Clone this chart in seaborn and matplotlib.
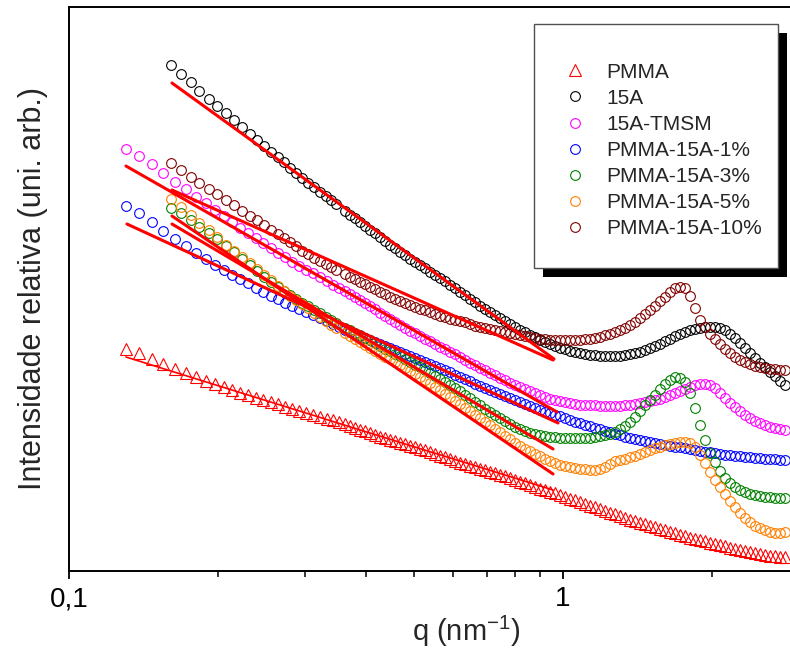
import numpy as np
import pandas as pd
import matplotlib
matplotlib.use("Agg")
import matplotlib.pyplot as plt
from matplotlib.lines import Line2D
from matplotlib.patches import Rectangle
from matplotlib.ticker import LogLocator, FuncFormatter, NullFormatter
import seaborn as sns

# ---------------- data ----------------
# q grids (nm^-1)
q_lo_a = [0.1304, 0.1386, 0.1472, 0.1550, 0.1639, 0.1725, 0.1807, 0.1893, 0.1974,
          0.2059, 0.2138, 0.2219, 0.2303, 0.2391, 0.2470, 0.2563, 0.2648, 0.2737,
          0.2827, 0.2921, 0.3018, 0.3118, 0.3222, 0.3329, 0.3423, 0.3520]
q_lo_b = [0.1609, 0.1685, 0.1766, 0.1833, 0.1920, 0.1993, 0.2078, 0.2158, 0.2240,
          0.2325, 0.2402, 0.2481, 0.2563, 0.2648, 0.2724, 0.2801, 0.2881, 0.2963,
          0.3047, 0.3133, 0.3222, 0.3313, 0.3391, 0.3471]
q_hi = [0.3620, 0.3705, 0.3792, 0.3882, 0.3973, 0.4067, 0.4163, 0.4262, 0.4361, 0.4465,
        0.4570, 0.4677, 0.4788, 0.4901, 0.5017, 0.5135, 0.5256, 0.5380, 0.5507, 0.5636,
        0.5770, 0.5906, 0.6045, 0.6187, 0.6333, 0.6482, 0.6636, 0.6792, 0.6952, 0.7115,
        0.7284, 0.7456, 0.7632, 0.7810, 0.7996, 0.8184, 0.8377, 0.8574, 0.8777, 0.8983,
        0.9196, 0.9412, 0.9634, 0.9861, 1.0093, 1.0332, 1.0576, 1.0824, 1.1078, 1.1342,
        1.1609, 1.1882, 1.2162, 1.2448, 1.2742, 1.3043, 1.3350, 1.3665, 1.3986, 1.4319,
        1.4655, 1.5000, 1.5354, 1.5717, 1.6087, 1.6466, 1.6855, 1.7250, 1.7660, 1.8076,
        1.8501, 1.8937, 1.9383, 1.9843, 2.0312, 2.0787, 2.1281, 2.1781, 2.2298, 2.2819,
        2.3358, 2.3906, 2.4477, 2.5050, 2.5644, 2.6244, 2.6863, 2.7497, 2.8145]

# relative intensity (arbitrary units, log-like scale)
I_pmma = [222, 218, 212, 207, 202, 198, 194, 190, 187, 184, 181, 178, 176, 173, 171,
          169, 167, 164, 162, 160, 158, 156, 154, 152, 151, 149,
          147, 145, 143, 141, 140, 138, 136, 134, 133, 131,
          130, 128, 127, 125, 124, 122, 121, 119, 117, 115,
          114, 112, 110, 108, 107, 105, 104, 102, 101, 99,
          98, 96, 95, 93, 91, 89, 88, 86, 84, 82,
          81, 79, 78, 76, 74, 72, 71, 69, 67, 65,
          64, 62, 60, 58, 57, 55, 53, 51, 50, 48,
          47, 45, 44, 42, 41, 39, 38, 36, 35, 33,
          32, 31, 30, 28, 27, 26, 25, 23, 22, 21,
          20, 19, 18, 17, 16, 15, 15, 14, 14]
I_15a = [506, 497, 489, 480, 472, 465, 458, 451, 444, 437, 431, 425, 419, 414, 409,
         403, 398, 393, 388, 384, 379, 375, 371, 367,
         360, 356, 353, 349, 345, 341, 338, 334, 330, 326,
         323, 319, 316, 312, 309, 306, 303, 299, 296, 293,
         290, 286, 283, 279, 276, 272, 269, 265, 262, 259,
         256, 253, 250, 247, 244, 241, 239, 236, 234, 231,
         229, 227, 225, 223, 222, 220, 219, 218, 217, 216,
         216, 215, 215, 215, 215, 215, 216, 217, 218, 219,
         221, 223, 225, 227, 230, 232, 235, 237, 239, 241,
         242, 243, 244, 244, 244, 243, 241, 237, 233, 228,
         223, 218, 213, 208, 204, 199, 195, 190, 186]
I_tmsm = [422, 415, 407, 398, 389, 382, 374, 368, 361, 355, 349, 343, 338, 333, 328,
          323, 318, 314, 309, 305, 301, 298, 294, 290, 286, 283,
          280, 277, 274, 271, 268, 265, 262, 258, 255, 252,
          249, 246, 243, 240, 238, 235, 232, 230, 227, 224,
          222, 219, 217, 214, 211, 208, 206, 203, 201, 198,
          196, 193, 191, 188, 186, 184, 182, 180, 178, 176,
          174, 172, 171, 170, 169, 168, 167, 166, 166, 166,
          166, 165, 165, 165, 165, 165, 166, 166, 167, 168,
          169, 170, 171, 172, 174, 176, 178, 180, 182, 184,
          186, 187, 187, 186, 183, 178, 173, 168, 164, 160,
          156, 153, 150, 148, 146, 144, 143, 142, 141]
I_1 = [365, 358, 349, 340, 332, 325, 318, 312, 306, 301, 296, 292, 288, 283, 279,
       275, 272, 268, 265, 262, 259, 256, 253, 250, 247, 244,
       241, 239, 237, 235, 233, 231, 229, 227, 225, 223,
       221, 219, 217, 215, 213, 211, 209, 207, 205, 203,
       201, 199, 196, 194, 192, 190, 187, 185, 183, 181,
       179, 177, 175, 173, 171, 169, 167, 165, 163, 161,
       159, 158, 156, 155, 153, 151, 149, 148, 146, 145,
       143, 142, 140, 139, 137, 136, 134, 133, 132, 131,
       130, 129, 128, 127, 126, 125, 124, 124, 123, 122,
       121, 120, 119, 119, 118, 117, 116, 116, 115, 115,
       114, 114, 113, 113, 112, 112, 112, 111, 111]
I_3 = [363, 358, 351, 344, 338, 332, 325, 319, 312, 306, 300, 294, 289, 284, 280,
       276, 272, 268, 265, 261, 258, 254, 251, 248,
       243, 241, 238, 236, 233, 231, 228, 225, 222, 220,
       217, 215, 212, 209, 206, 204, 201, 198, 195, 192,
       189, 186, 183, 180, 176, 173, 169, 166, 162, 159,
       156, 153, 150, 147, 144, 142, 140, 138, 137, 136,
       135, 134, 134, 133, 133, 133, 133, 133, 133, 133,
       134, 135, 136, 137, 139, 142, 145, 149, 154, 160,
       166, 171, 176, 182, 187, 191, 194, 193, 189, 178,
       163, 146, 131, 118, 109, 100, 93, 88, 84, 81,
       79, 77, 76, 75, 74, 74, 73, 73, 73]
I_5 = [372, 364, 356, 348, 341, 334, 326, 320, 314, 308, 302, 296, 291, 285, 280,
       275, 271, 267, 263, 258, 254, 250, 246, 243,
       238, 235, 232, 229, 226, 223, 220, 217, 214, 212,
       209, 206, 203, 200, 197, 194, 191, 188, 184, 181,
       177, 174, 170, 167, 163, 160, 156, 153, 149, 146,
       142, 139, 135, 132, 128, 125, 122, 120, 117, 115,
       112, 110, 108, 106, 105, 104, 103, 102, 102, 101,
       101, 102, 104, 107, 110, 111, 112, 114, 115, 117,
       119, 121, 123, 124, 126, 127, 128, 129, 129, 128,
       124, 116, 108, 99, 91, 84, 77, 70, 64, 58,
       53, 49, 45, 43, 41, 39, 38, 38, 39]
I_10 = [408, 401, 394, 388, 382, 377, 371, 366, 360, 355, 351, 346, 341, 337, 333,
        329, 325, 320, 317, 313, 310, 307, 304, 301,
        297, 294, 292, 289, 287, 284, 282, 279, 277, 274,
        272, 270, 268, 266, 264, 262, 261, 259, 257, 255,
        254, 252, 251, 250, 249, 247, 245, 244, 243, 242,
        241, 240, 239, 238, 237, 236, 235, 234, 233, 232,
        232, 231, 231, 231, 231, 231, 231, 231, 232, 232,
        233, 234, 236, 237, 239, 241, 243, 246, 249, 253,
        257, 261, 265, 270, 274, 279, 283, 284, 283, 275,
        263, 251, 244, 237, 232, 227, 222, 218, 214, 211,
        209, 207, 205, 204, 203, 202, 202, 201, 201]

names = ["PMMA", "15A", "15A-TMSM", "PMMA-15A-1%", "PMMA-15A-3%",
         "PMMA-15A-5%", "PMMA-15A-10%"]
q_sets = [q_lo_a + q_hi, q_lo_b + q_hi, q_lo_a + q_hi, q_lo_a + q_hi,
          q_lo_b + q_hi, q_lo_b + q_hi, q_lo_b + q_hi]
I_sets = [I_pmma, I_15a, I_tmsm, I_1, I_3, I_5, I_10]

# power-law fits (straight segments in log-log): start/end q and intensity
fit_q0 = [0.1304, 0.1616, 0.1304, 0.1310, 0.1616, 0.1616, 0.1616]
fit_q1 = [0.9545, 0.9589, 0.9725, 0.9770, 0.9545, 0.9545, 0.9545]
fit_I0 = [214, 488, 405, 347, 347, 355, 381]
fit_I1 = [81, 212, 159, 148, 122, 97, 211]

# ---------------- style ----------------
colors = ["#FF0000", "#000000", "#FF00FF", "#0000FF", "#008000", "#FF8000", "#800000"]
mk = ["^", "o", "o", "o", "o", "o", "o"]
msize = [9.0, 7.0, 7.0, 7.0, 7.0, 7.0, 7.0]

sns.set_style("white")
plt.rcParams["font.family"] = ["Liberation Sans", "DejaVu Sans"]
plt.rcParams["mathtext.fontset"] = "custom"
plt.rcParams["mathtext.rm"] = "Liberation Sans"
plt.rcParams["mathtext.it"] = "Liberation Sans:italic"
plt.rcParams["mathtext.default"] = "regular"

df = pd.concat([pd.DataFrame({"q": q, "I": I, "amostra": n})
                for n, q, I in zip(names, q_sets, I_sets)], ignore_index=True)

W, H = 790, 655
fig = plt.figure(figsize=(W / 100, H / 100), dpi=100)
ax = fig.add_axes([69 / W, 84 / H, 721 / W, 564 / H])

for n, c, m, s in zip(names, colors, mk, msize):
    sub = df[df["amostra"] == n]
    sns.lineplot(data=sub, x="q", y="I", ax=ax, estimator=None, sort=False,
                 linestyle="", marker=m, markersize=s, markerfacecolor="none",
                 markeredgecolor=c, markeredgewidth=0.8, color=c, legend=False)

for i in range(len(names)):
    lw = 1.2 if i == 0 else 2.2
    sns.lineplot(x=[fit_q0[i], fit_q1[i]], y=[fit_I0[i], fit_I1[i]], ax=ax,
                 color="#FF0000", linewidth=lw, estimator=None, sort=False,
                 legend=False, zorder=5)

ax.set_xscale("log")
ax.set_xlim(0.1, 2.88)
ax.set_ylim(0, 564)
ax.xaxis.set_major_locator(LogLocator(base=10))
ax.xaxis.set_minor_locator(LogLocator(base=10, subs=np.arange(2, 10)))
ax.xaxis.set_minor_formatter(NullFormatter())
ax.xaxis.set_major_formatter(FuncFormatter(lambda v, p: f"{v:g}".replace(".", ",")))
ax.set_yticks([])
ax.tick_params(axis="x", which="major", direction="out", length=6, width=1.3,
               labelsize=20, pad=5, colors="black", bottom=True)
ax.tick_params(axis="x", which="minor", direction="out", length=4, width=1.3,
               bottom=True)
for side in ["left", "bottom", "top"]:
    ax.spines[side].set_visible(True)
    ax.spines[side].set_linewidth(1.4)
    ax.spines[side].set_color("black")
ax.spines["right"].set_visible(False)

ax.set_xlabel(r"q (nm$^{-1}$)", fontsize=21)
ax.xaxis.set_label_coords((466 - 69) / 721, (571 - 614) / 564)
ax.set_ylabel("Intensidade relativa (uni. arb.)", fontsize=22)
ax.yaxis.set_label_coords((48 - 69) / 721, 0.5)

# legend box with black shadow
fig.add_artist(Rectangle((543 / W, 1 - 277 / H), 244 / W, 244 / H,
                         transform=fig.transFigure, facecolor="black",
                         edgecolor="none", zorder=3))
fig.add_artist(Rectangle((534 / W, 1 - 268 / H), 244 / W, 244 / H,
                         transform=fig.transFigure, facecolor="white",
                         edgecolor="#505050", linewidth=1.0, zorder=3.5))
handles = [Line2D([], [], linestyle="", marker=m, markersize=s, markerfacecolor="none",
                  markeredgecolor=c, markeredgewidth=0.8)
           for c, m, s in zip(colors, mk, msize)]
leg = fig.legend(handles, names, loc="upper left",
                 bbox_to_anchor=(564.6 / W, 1 - 62.7 / H), frameon=False, fontsize=15,
                 handlelength=1.0, handletextpad=0.99, labelspacing=0.34,
                 borderpad=0, borderaxespad=0)
leg.set_zorder(6)

fig.savefig("out.png", dpi=100)
